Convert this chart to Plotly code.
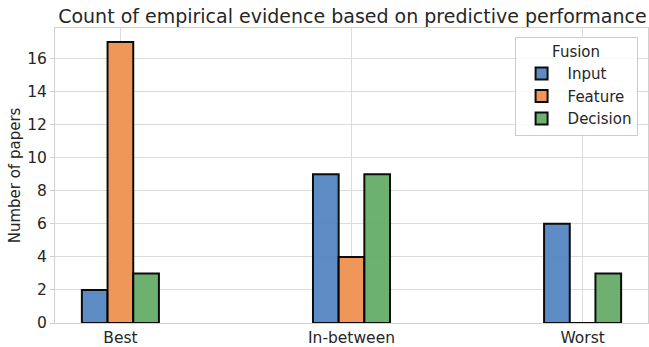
import plotly.graph_objects as go

categories = ["Best", "In-between", "Worst"]
fusion_types = ["Input", "Feature", "Decision"]
input_counts = [2, 9, 6]
feature_counts = [17, 4, 0]
decision_counts = [3, 9, 3]
colors = ["#5585c1", "#ef9250", "#67ac68"]

series = [input_counts, feature_counts, decision_counts]
bar_w = 1 / 9
offsets = [-bar_w, 0, bar_w]

fig = go.Figure()
for name, vals, col, off in zip(fusion_types, series, colors, offsets):
    fig.add_trace(go.Bar(
        x=[i + off for i in range(len(categories))],
        y=vals,
        width=bar_w,
        name=name,
        marker=dict(color=col, line=dict(color="black", width=2)),
        opacity=0.95,
    ))

font = "DejaVu Sans"
fig.update_layout(
    width=649, height=347,
    margin=dict(l=55, r=1, t=28, b=24, autoexpand=False),
    barmode="overlay",
    plot_bgcolor="white", paper_bgcolor="white",
    font=dict(family=font, size=15, color="#262626"),
    title=dict(text="Count of empirical evidence based on predictive performance",
               x=0.543, xanchor="center", y=0.952, yanchor="middle",
               font=dict(size=19, color="#262626")),
    legend=dict(title=dict(text="Fusion", side="top center", font=dict(size=15)),
                x=0.775, xanchor="left", y=0.97, yanchor="top",
                bordercolor="#cccccc", borderwidth=1, bgcolor="rgba(255,255,255,0.85)",
                font=dict(size=15), tracegroupgap=3, itemwidth=42),
    showlegend=True,
)
fig.update_xaxes(
    range=[-0.283, 2.283], automargin=False,
    tickmode="array", tickvals=list(range(len(categories))), ticktext=categories,
    showgrid=True, gridcolor="#dcdcdc", gridwidth=1,
    showline=True, linecolor="#d0d0d0", linewidth=1, mirror=True,
    ticks="", zeroline=False, tickfont=dict(size=15.5),
)
fig.update_yaxes(
    range=[0, 17.85], automargin=False,
    tickmode="array", tickvals=list(range(0, 17, 2)),
    title=dict(text="Number of papers", font=dict(size=15), standoff=2),
    showgrid=True, gridcolor="#dcdcdc", gridwidth=1,
    showline=True, linecolor="#d0d0d0", linewidth=1, mirror=True,
    ticks="outside", ticklen=4, tickcolor="#d0d0d0", zeroline=False,
    tickfont=dict(size=15.5),
)
fig.write_html("out.html", config={"displayModeBar": False},
               post_script="document.body.style.margin='0';document.body.style.overflow='hidden';")
